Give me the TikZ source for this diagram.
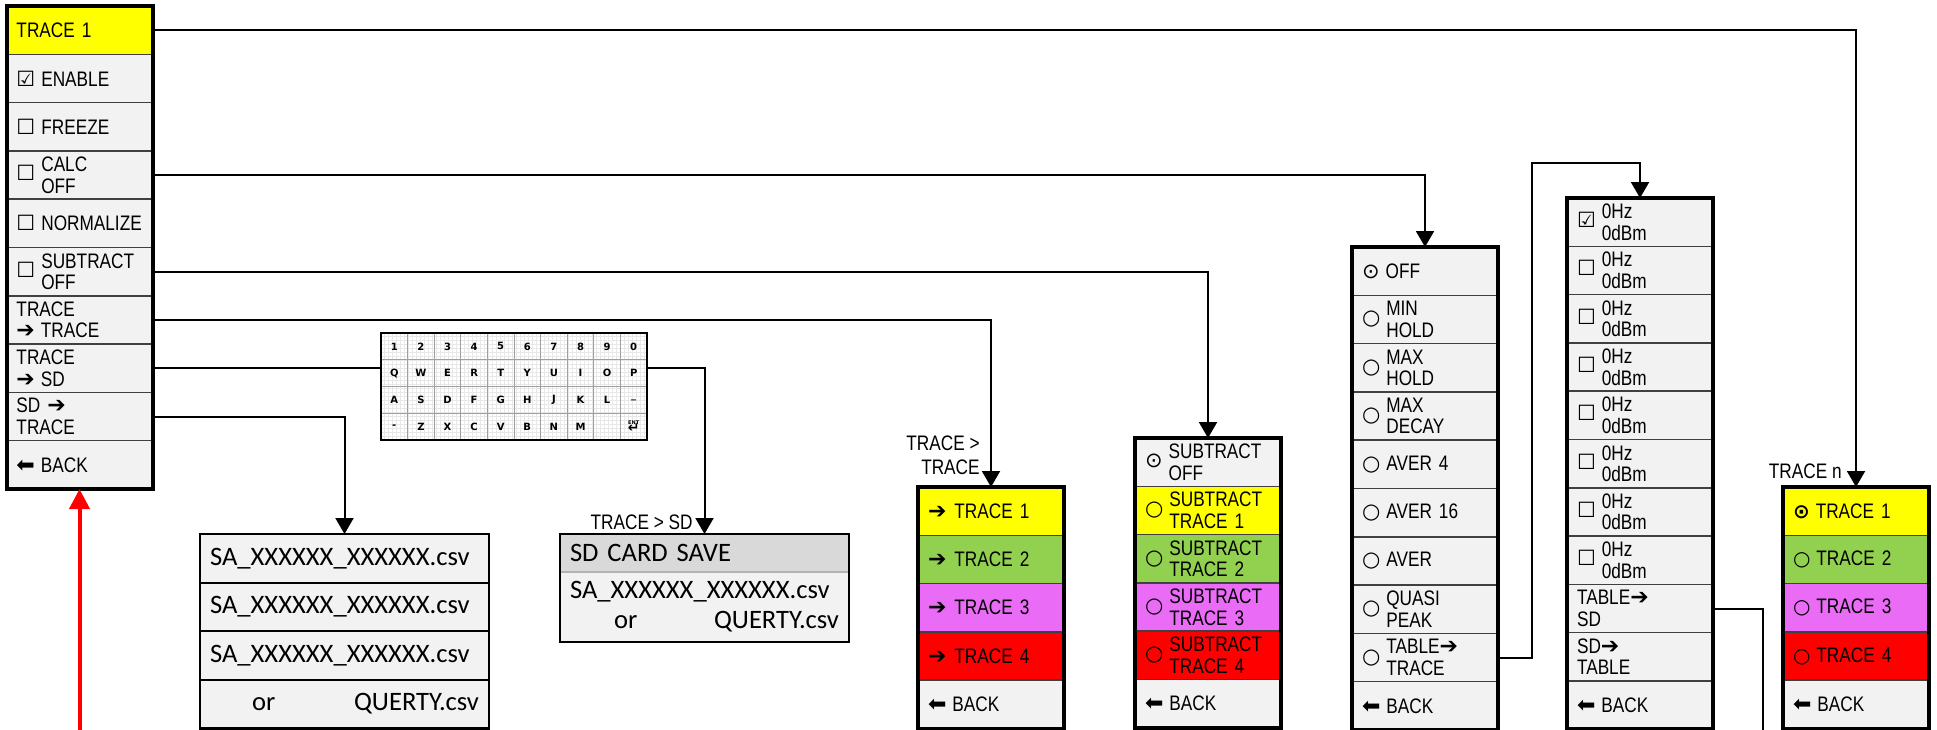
\documentclass[tikz,border=0pt]{standalone}
\usepackage{fontspec}
\setmainfont{Liberation Sans}[FakeStretch=0.82]
\newfontfamily\symfont{DejaVu Sans}
\newfontfamily\filefont{Carlito}
\usetikzlibrary{positioning, arrows.meta, fit, backgrounds}
\definecolor{rowgray}{RGB}{242,242,242}
\definecolor{hdrgray}{RGB}{217,217,217}
\definecolor{tryellow}{RGB}{255,255,0}
\definecolor{trgreen}{RGB}{146,208,80}
\definecolor{trpink}{RGB}{234,108,246}
\definecolor{trred}{RGB}{255,0,0}
\newcommand{\menufont}{\fontsize{10.5}{10.8}\selectfont}
\newcommand{\chk}[1]{{\symfont\fontsize{10.5}{10}\selectfont #1}\hspace{3pt}}
\newcommand{\bchk}[1]{{\symfont\bfseries\fontsize{10}{10}\selectfont #1}\hspace{3pt}}
\newcommand{\menuopt}[2]{\chk{#1}\parbox[c]{50pt}{\raggedright #2}}
\newcommand{\toarr}{{\symfont\fontsize{11}{10}\selectfont ➔}}
\newcommand{\backarr}{{\symfont\fontsize{11}{10}\selectfont ⬅}\hspace{3pt}}
\tikzset{
    menurow/.style={rectangle, draw=black!75, line width=0.75pt, fill=rowgray, minimum width=73pt, minimum height=24.15pt, text width=63pt, inner xsep=5pt, inner ysep=1pt, outer sep=0pt, align=left, font=\menufont},
    menuframe/.style={draw=black, line width=2pt, inner sep=0pt, outer sep=0pt},
    filerow/.style={rectangle, draw=black, line width=1pt, fill=rowgray, minimum width=144.5pt, minimum height=24.3pt, text width=134.5pt, inner xsep=5pt, inner ysep=1pt, outer sep=0pt, align=left, font=\filefont\fontsize{13.3}{15}\selectfont},
    fileframe/.style={draw=black, line width=1.2pt, inner sep=0pt, outer sep=0pt},
    keycell/.style={rectangle, draw=gray!75, line width=0.5pt, minimum width=13.3pt, minimum height=13.4pt, inner sep=0pt, outer sep=0pt, align=center, font=\symfont\bfseries\fontsize{5}{5}\selectfont},
    arr/.style={-{Triangle[width=9pt, length=8pt]}, line width=1pt},
    link/.style={line width=1pt},
    redarr/.style={-{Triangle[width=10pt, length=10pt]}, line width=2pt, color=red},
    tag/.style={inner sep=0pt, align=right, font=\fontsize{10.5}{12}\selectfont}
}
\begin{document}
\begin{tikzpicture}[x=0.5pt, y=-0.5pt]
    \useasboundingbox (0,0) rectangle (1937,729);
    % main trace menu
    \node[menurow, anchor=north, fill=tryellow] (m1) at (79.5,6) {TRACE 1};
    \node[menurow, below=0pt of m1] (m2) {\chk{☑}ENABLE};
    \node[menurow, below=0pt of m2] (m3) {\chk{☐}FREEZE};
    \node[menurow, below=0pt of m3] (m4) {\menuopt{☐}{CALC\\OFF}};
    \node[menurow, below=0pt of m4] (m5) {\chk{☐}NORMALIZE};
    \node[menurow, below=0pt of m5] (m6) {\menuopt{☐}{SUBTRACT\\OFF}};
    \node[menurow, below=0pt of m6] (m7) {TRACE\\\toarr\hspace{3pt}TRACE};
    \node[menurow, below=0pt of m7] (m8) {TRACE\\\toarr\hspace{3pt}SD};
    \node[menurow, below=0pt of m8] (m9) {SD \toarr\\TRACE};
    \node[menurow, below=0pt of m9] (m10) {\backarr BACK};
    \node[menuframe, fit=(m1)(m10)] (lmenu) {};
    % keyboard
    \foreach \keys [count=\r] in {{1,2,3,4,5,6,7,8,9,0},{Q,W,E,R,T,Y,U,I,O,P},{A,S,D,F,G,H,J,K,L,\_},{-,Z,X,C,V,B,N,M,{},{{\fontsize{2.5}{3}\selectfont ENT}\\[-1pt]{\fontsize{7}{7}\selectfont ↵}}}}
        \foreach \k [count=\c] in \keys
            \node[keycell] (k-\r-\c) at (381+26.6*\c-13.3, 333+26.75*\r-13.375) {\k};
    \node[draw, line width=0.6pt, inner sep=0pt, outer sep=0pt, fit=(k-1-1)(k-4-10)] (kbd) {};
    \begin{scope}[on background layer]
        \draw[gray!18, line width=0.2pt, step=2pt] (kbd.south west) grid (kbd.north east);
    \end{scope}
    % file list
    \node[filerow, anchor=north] (f1) at (344.5,534) {SA\_XXXXXX\_XXXXXX.csv};
    \node[filerow, below=0pt of f1] (f2) {SA\_XXXXXX\_XXXXXX.csv};
    \node[filerow, below=0pt of f2] (f3) {SA\_XXXXXX\_XXXXXX.csv};
    \node[filerow, below=0pt of f3] (f4) {\hspace*{21pt}or\hspace*{0pt plus 1filll}QUERTY.csv};
    \node[fileframe, fit=(f1)(f4)] (files) {};
    % sd card save
    \node[filerow, anchor=north, fill=hdrgray, draw=gray!60, minimum height=19pt] (sdhead) at (704.5,534) {SD CARD SAVE};
    \node[filerow, below=0pt of sdhead, draw=gray!60, minimum height=35pt] (sdbody) {SA\_XXXXXX\_XXXXXX.csv\\\hspace*{22pt}or\hspace*{0pt plus 1filll}QUERTY.csv};
    \node[fileframe, fit=(sdhead)(sdbody)] (sdsave) {};
    % trace > trace
    \node[menurow, anchor=north, fill=tryellow] (tt1) at (991,487) {\toarr\hspace{4pt}TRACE 1};
    \node[menurow, below=0pt of tt1, fill=trgreen] (tt2) {\toarr\hspace{4pt}TRACE 2};
    \node[menurow, below=0pt of tt2, fill=trpink] (tt3) {\toarr\hspace{4pt}TRACE 3};
    \node[menurow, below=0pt of tt3, fill=trred] (tt4) {\toarr\hspace{4pt}TRACE 4};
    \node[menurow, below=0pt of tt4] (tt5) {\backarr BACK};
    \node[menuframe, fit=(tt1)(tt5)] (ttmenu) {};
    % subtract
    \node[menurow, anchor=north] (s1) at (1208,438) {\menuopt{⊙}{SUBTRACT\\OFF}};
    \node[menurow, below=0pt of s1, fill=tryellow] (s2) {\menuopt{○}{SUBTRACT\\TRACE 1}};
    \node[menurow, below=0pt of s2, fill=trgreen] (s3) {\menuopt{○}{SUBTRACT\\TRACE 2}};
    \node[menurow, below=0pt of s3, fill=trpink] (s4) {\menuopt{○}{SUBTRACT\\TRACE 3}};
    \node[menurow, below=0pt of s4, fill=trred] (s5) {\menuopt{○}{SUBTRACT\\TRACE 4}};
    \node[menurow, below=0pt of s5] (s6) {\backarr BACK};
    \node[menuframe, fit=(s1)(s6)] (smenu) {};
    % calc
    \node[menurow, anchor=north] (c1) at (1425,247) {\chk{⊙}OFF};
    \node[menurow, below=0pt of c1] (c2) {\menuopt{○}{MIN\\HOLD}};
    \node[menurow, below=0pt of c2] (c3) {\menuopt{○}{MAX\\HOLD}};
    \node[menurow, below=0pt of c3] (c4) {\menuopt{○}{MAX\\DECAY}};
    \node[menurow, below=0pt of c4] (c5) {\chk{○}AVER 4};
    \node[menurow, below=0pt of c5] (c6) {\chk{○}AVER 16};
    \node[menurow, below=0pt of c6] (c7) {\chk{○}AVER};
    \node[menurow, below=0pt of c7] (c8) {\menuopt{○}{QUASI\\PEAK}};
    \node[menurow, below=0pt of c8] (c9) {\menuopt{○}{TABLE\toarr\\TRACE}};
    \node[menurow, below=0pt of c9] (c10) {\backarr BACK};
    \node[menuframe, fit=(c1)(c10)] (cmenu) {};
    % table
    \node[menurow, anchor=north] (t1) at (1640,198) {\menuopt{☑}{0Hz\\0dBm}};
    \node[menurow, below=0pt of t1] (t2) {\menuopt{☐}{0Hz\\0dBm}};
    \node[menurow, below=0pt of t2] (t3) {\menuopt{☐}{0Hz\\0dBm}};
    \node[menurow, below=0pt of t3] (t4) {\menuopt{☐}{0Hz\\0dBm}};
    \node[menurow, below=0pt of t4] (t5) {\menuopt{☐}{0Hz\\0dBm}};
    \node[menurow, below=0pt of t5] (t6) {\menuopt{☐}{0Hz\\0dBm}};
    \node[menurow, below=0pt of t6] (t7) {\menuopt{☐}{0Hz\\0dBm}};
    \node[menurow, below=0pt of t7] (t8) {\menuopt{☐}{0Hz\\0dBm}};
    \node[menurow, below=0pt of t8] (t9) {TABLE\toarr\\SD};
    \node[menurow, below=0pt of t9] (t10) {SD\toarr\\TABLE};
    \node[menurow, below=0pt of t10] (t11) {\backarr BACK};
    \node[menuframe, fit=(t1)(t11)] (tmenu) {};
    % trace n
    \node[menurow, anchor=north, fill=tryellow] (n1) at (1856,487) {\bchk{⊙}TRACE 1};
    \node[menurow, below=0pt of n1, fill=trgreen] (n2) {\bchk{○}TRACE 2};
    \node[menurow, below=0pt of n2, fill=trpink] (n3) {\bchk{○}TRACE 3};
    \node[menurow, below=0pt of n3, fill=trred] (n4) {\bchk{○}TRACE 4};
    \node[menurow, below=0pt of n4] (n5) {\backarr BACK};
    \node[menuframe, fit=(n1)(n5)] (nmenu) {};
    % tags
    \node[tag, anchor=south east] (sdtag) at ([xshift=-5.75pt, yshift=1.75pt]sdsave.north) {TRACE > SD};
    \node[tag, anchor=south east] (tttag) at ([xshift=-5.5pt, yshift=6pt]ttmenu.north) {TRACE >\\TRACE};
    \node[tag, anchor=south east] (ntag) at ([xshift=-7pt, yshift=4pt]nmenu.north) {TRACE n};
    % links
    \coordinate (loopup) at (1532,163);
    \coordinate (tblout) at (1763,740);
    \coordinate (entry) at (79.5,740);
    \draw[arr] (m1.east) -| (nmenu.north);
    \draw[arr] (m4.east) -| (cmenu.north);
    \draw[arr] (m6.east) -| (smenu.north);
    \draw[arr] (m7.east) -| (ttmenu.north);
    \draw[link] (m8.east) -- (m8.east -| kbd.west);
    \draw[arr] (m8.east -| kbd.east) -| (sdsave.north);
    \draw[arr] (m9.east) -| (files.north);
    \draw[arr] (c9.east) -| (loopup) -| (tmenu.north);
    \draw[link] (t9.east) -| (tblout);
    \draw[redarr] (entry) -- (lmenu.south);
\end{tikzpicture}
\end{document}
